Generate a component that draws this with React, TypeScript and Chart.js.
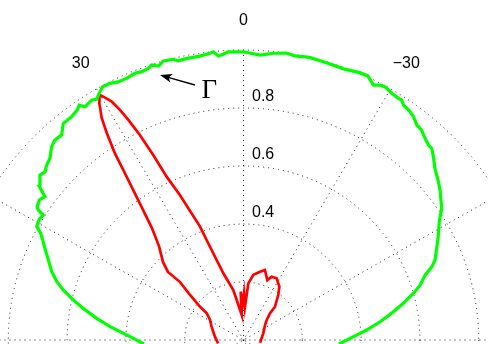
import React, { useEffect, useRef } from "react";
import { Chart, registerables } from "chart.js";

Chart.register(...registerables);

// Angles in degrees (0 = up, positive = counter-clockwise / left), radii in plot units.
const greenTheta = [
  92.3, 88.3, 84.2, 81.5, 78.7, 76.2, 74.3, 72.4, 70.1, 67.4, 64.9, 63.2, 61.9, 60.9, 59.1, 57.7,
  57.3, 56.8, 55.2, 53.8, 52.7, 50.6, 49.3, 48.0, 46.4, 44.4, 42.9, 41.2, 39.4, 37.2, 35.5, 34.6,
  33.8, 32.0, 31.0, 30.0, 28.8, 27.2, 25.6, 23.8, 21.9, 20.5, 19.1, 18.2, 17.0, 15.8, 13.9, 13.0,
  11.2, 8.6, 6.6, 5.9, 5.0, 4.0, 3.0, 0.0, -3.3, -5.9, -8.4, -10.1, -13.0, -16.6, -20.0, -23.2,
  -24.9, -26.7, -27.8, -28.9, -30.6, -32.3, -33.0, -33.9, -35.7, -36.9, -38.5, -39.9, -41.6, -43.1,
  -44.1, -45.6, -47.7, -50.5, -52.3, -56.0, -58.5, -61.7, -64.2, -67.1, -68.5, -70.1, -72.6, -74.4,
  -76.9, -79.2, -82.3, -85.3, -86.7, -92.4,
];
const greenR = [
  0.339, 0.386, 0.456, 0.505, 0.556, 0.602, 0.637, 0.666, 0.694, 0.719, 0.746, 0.765, 0.782, 0.805, 0.81, 0.806,
  0.83, 0.839, 0.846, 0.837, 0.873, 0.896, 0.89, 0.901, 0.909, 0.933, 0.942, 0.939, 0.966, 0.967, 0.974, 0.984,
  0.968, 0.975, 0.969, 0.982, 0.996, 0.995, 0.987, 0.986, 0.991, 0.988, 0.991, 0.998, 0.988, 1.0, 0.997, 0.988,
  0.99, 0.99, 0.995, 0.999, 0.983, 0.988, 0.995, 0.994, 0.984, 0.994, 1.0, 0.995, 1.0, 0.997, 0.995, 1.003,
  1.004, 0.984, 0.994, 0.997, 0.989, 0.986, 0.987, 0.976, 0.97, 0.963, 0.947, 0.944, 0.93, 0.921,
  0.92, 0.904, 0.88, 0.859, 0.845, 0.813, 0.781, 0.752, 0.73, 0.707, 0.688, 0.657, 0.629, 0.6,
  0.558, 0.519, 0.469, 0.42, 0.397, 0.325,
];
const redTheta = [
  97.6, 83.3, 67.0, 58.8, 53.7, 52.2, 49.5, 47.2, 47.6, 45.5, 41.6, 38.9, 37.0, 35.4, 34.9, 34.2,
  33.1, 32.2, 31.0, 30.1, 29.6, 28.6, 27.9, 27.3, 26.5, 25.7, 24.9, 23.4, 20.7, 20.0, 16.6, 11.4,
  9.5, 4.0, 3.3, 1.2, -0.6, -2.5, -4.8, -8.5, -13.4, -16.8, -21.4, -23.7, -27.9, -33.5, -37.3, -43.0,
  -44.4, -48.8, -54.7, -71.1, -99.4,
];
const redR = [
  0.087, 0.098, 0.118, 0.133, 0.155, 0.187, 0.239, 0.294, 0.348, 0.384, 0.433, 0.496, 0.579, 0.677, 0.715, 0.778,
  0.851, 0.905, 0.952, 0.977, 0.965, 0.936, 0.898, 0.854, 0.79, 0.708, 0.621, 0.545, 0.418, 0.367, 0.24, 0.176,
  0.14, 0.086, 0.167, 0.127, 0.161, 0.115, 0.196, 0.227, 0.242, 0.252, 0.222, 0.238, 0.241, 0.221, 0.195, 0.157,
  0.129, 0.105, 0.09, 0.071, 0.057,
];

const ringValues = [0.2, 0.4, 0.6, 0.8, 1.0];
const ringLabelValues = [0.4, 0.6, 0.8];
const spokeAngles = [0, 30, 60, 90, 120, 150];
const angleLabelValues = [30, 0, -30];

function polarToXY(thetaDeg: number, r: number) {
  const t = (thetaDeg * Math.PI) / 180;
  return { x: -r * Math.sin(t), y: r * Math.cos(t) };
}

function toPoints(theta: number[], r: number[]) {
  return theta.map((t, i) => polarToXY(t, r[i]));
}

const polarGrid = {
  id: "polarGrid",
  beforeDatasetsDraw(chart: any) {
    const { ctx } = chart;
    const xs = chart.scales.x;
    const ys = chart.scales.y;
    const cx = xs.getPixelForValue(0);
    const cy = ys.getPixelForValue(0);
    ctx.save();
    ctx.strokeStyle = "#222222";
    ctx.lineWidth = 1;
    ctx.setLineDash([1, 4]);
    for (const r of ringValues) {
      const rx = xs.getPixelForValue(r) - cx;
      const ry = cy - ys.getPixelForValue(r);
      ctx.beginPath();
      ctx.ellipse(cx, cy, rx, ry, 0, 0, Math.PI * 2);
      ctx.stroke();
    }
    for (const a of spokeAngles) {
      const p = polarToXY(a, 1);
      const q = polarToXY(a + 180, 1);
      ctx.beginPath();
      ctx.moveTo(xs.getPixelForValue(p.x), ys.getPixelForValue(p.y));
      ctx.lineTo(xs.getPixelForValue(q.x), ys.getPixelForValue(q.y));
      ctx.stroke();
    }
    ctx.restore();
  },
  afterDatasetsDraw(chart: any, _args: any, opts: any) {
    const { ctx } = chart;
    const xs = chart.scales.x;
    const ys = chart.scales.y;
    ctx.save();
    ctx.fillStyle = "#000";
    // ring labels
    ctx.font = "16px 'Liberation Sans', Arial, sans-serif";
    ctx.textAlign = "left";
    ctx.textBaseline = "alphabetic";
    for (const v of ringLabelValues) {
      ctx.fillText(v.toFixed(1), xs.getPixelForValue(opts.ringLabelX), ys.getPixelForValue(v + opts.ringLabelDy));
    }
    // angle labels
    const fs = 16;
    ctx.font = `${fs}px 'Liberation Sans', Arial, sans-serif`;
    ctx.textAlign = "center";
    for (const a of angleLabelValues) {
      const p = polarToXY(a, opts.angleLabelR);
      const txt = a < 0 ? "\u2212" + Math.abs(a) : String(a);
      ctx.fillText(txt, xs.getPixelForValue(p.x), ys.getPixelForValue(p.y) + fs * 0.36);
    }
    // Gamma annotation
    ctx.font = "27px 'Liberation Serif', 'Times New Roman', serif";
    ctx.textAlign = "center";
    ctx.fillText("\u0393", xs.getPixelForValue(opts.gamma[0]), ys.getPixelForValue(opts.gamma[1]));
    // arrow
    const tx = xs.getPixelForValue(opts.arrowTail[0]);
    const ty = ys.getPixelForValue(opts.arrowTail[1]);
    const hx = xs.getPixelForValue(opts.arrowTip[0]);
    const hy = ys.getPixelForValue(opts.arrowTip[1]);
    const len = Math.hypot(hx - tx, hy - ty);
    const dx = (hx - tx) / len;
    const dy = (hy - ty) / len;
    const nx = -dy;
    const ny = dx;
    const L = 12;
    const W = 4.5;
    ctx.strokeStyle = "#000";
    ctx.lineWidth = 1.4;
    ctx.beginPath();
    ctx.moveTo(tx, ty);
    ctx.lineTo(hx - dx * L * 0.7, hy - dy * L * 0.7);
    ctx.stroke();
    ctx.beginPath();
    ctx.moveTo(hx, hy);
    ctx.lineTo(hx - dx * L + nx * W, hy - dy * L + ny * W);
    ctx.lineTo(hx - dx * L * 0.75, hy - dy * L * 0.75);
    ctx.lineTo(hx - dx * L - nx * W, hy - dy * L - ny * W);
    ctx.closePath();
    ctx.fill();
    ctx.restore();
  },
};

export default function App() {
  const ref = useRef<HTMLCanvasElement>(null);
  useEffect(() => {
    if (!ref.current) return;
    const chart = new Chart(ref.current, {
      type: "scatter",
      data: {
        datasets: [
          {
            data: toPoints(greenTheta, greenR),
            borderColor: "#00ff00",
            backgroundColor: "#00ff00",
            borderWidth: 3.2,
            showLine: true,
            pointRadius: 0,
            fill: false,
            tension: 0,
          },
          {
            data: toPoints(redTheta, redR),
            borderColor: "#ff0000",
            backgroundColor: "#ff0000",
            borderWidth: 2.7,
            showLine: true,
            pointRadius: 0,
            fill: false,
            tension: 0,
          },
        ],
      },
      options: {
        animation: false,
        responsive: false,
        devicePixelRatio: 1,
        layout: { padding: 0 },
        scales: {
          x: { type: "linear", min: -0.8282, max: 0.8316, display: false },
          y: { type: "linear", min: -0.0138, max: 1.1724, display: false },
        },
        plugins: {
          legend: { display: false },
          tooltip: { enabled: false },
          polarGrid: {
            ringLabelX: 0.029,
            ringLabelDy: 0.023,
            angleLabelR: 1.107,
            gamma: [-0.1167, 0.8334],
            arrowTail: [-0.165, 0.8793],
            arrowTip: [-0.284, 0.9138],
          },
        } as any,
      },
      plugins: [polarGrid],
    });
    return () => chart.destroy();
  }, []);
  return (
    <div style={{ position: "absolute", left: 0, top: 0, width: 488, height: 344, background: "#fff" }}>
      <canvas ref={ref} width={488} height={344} style={{ display: "block" }} />
    </div>
  );
}
